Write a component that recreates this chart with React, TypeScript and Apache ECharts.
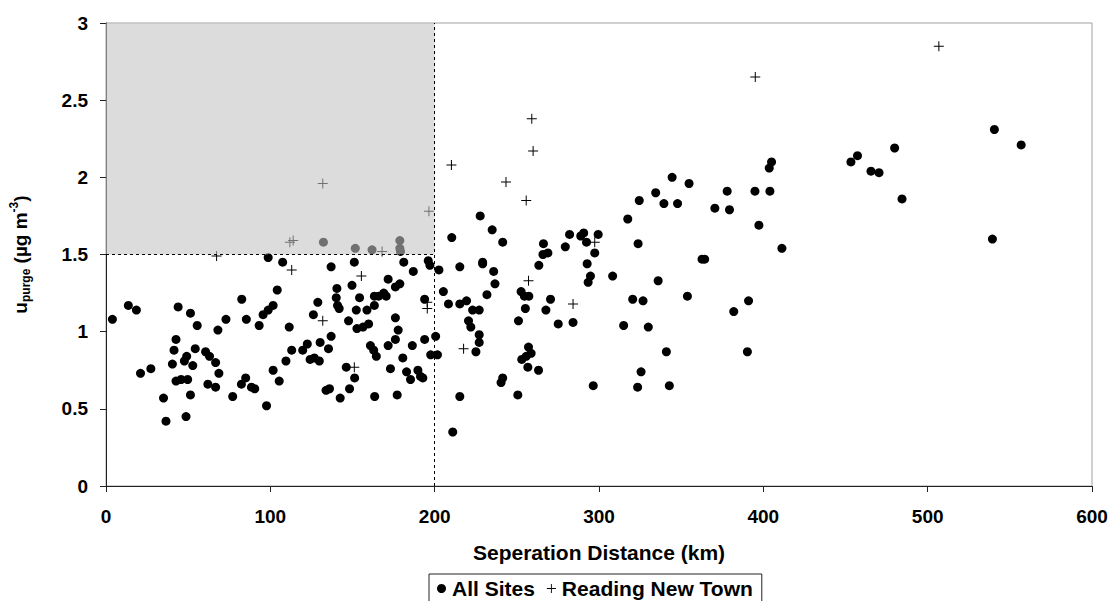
import React, { useEffect, useRef } from "react";
import * as echarts from "echarts";

// All Sites: separation distance (km) and u_purge (µg m-3)
const allSitesDistance = [
  3.9, 13.6, 18.5, 43.9, 51.4, 55.5, 68.1, 73.0, 82.6, 85.4, 93.2, 95.6, 98.7, 98.7,
  42.6, 41.4, 54.3, 49.1, 47.7, 40.4, 52.8, 60.6, 63.0, 66.7, 68.7, 21.0, 27.3, 42.6,
  45.7, 49.7, 62.0, 66.7, 35.0, 51.4, 77.1, 82.4, 85.0, 88.5, 90.5, 97.7, 36.5, 48.7,
  107.5, 137.0, 151.1, 181.2, 187.0, 196.1, 197.1, 202.6, 104.2, 101.7, 111.5, 128.9,
  126.2, 140.5, 140.1, 140.9, 141.9, 149.7, 154.3, 152.3, 158.8, 147.6, 163.3, 165.9,
  169.0, 170.5, 163.3, 171.7, 176.1, 178.8, 176.1, 152.7, 156.4, 159.8, 177.8, 176.1,
  193.9, 193.9, 200.6, 197.6, 201.7, 137.0, 130.3, 135.4, 122.5, 119.7, 113.0, 109.5,
  124.2, 126.8, 129.8, 101.7, 105.4, 160.9, 162.9, 164.5, 171.7, 180.6, 186.4, 173.1,
  182.9, 185.3, 189.8, 191.4, 192.8, 146.2, 151.3, 133.9, 136.0, 148.2, 142.5, 163.5,
  177.2, 132.3, 151.7, 161.9, 178.8, 178.8, 179.2,
  227.7, 235.0, 210.4, 241.4, 266.2, 279.5, 282.1, 288.9, 290.7, 292.4, 299.5, 265.9,
  268.9, 297.4, 263.4, 215.3, 229.2, 229.2, 235.9, 236.7, 231.8, 292.8, 294.8, 293.4,
  308.3, 252.6, 254.6, 257.3, 270.5, 267.7, 255.2, 251.0, 275.2, 284.2, 205.3, 208.4,
  215.3, 219.4, 223.1, 227.1, 220.6, 222.0, 227.1, 227.1, 225.1, 257.1, 258.7, 255.7,
  253.0, 256.7, 263.2, 241.4, 240.4, 215.3, 250.6, 296.5, 211.0,
  405.0, 403.6, 344.5, 354.8, 334.5, 324.5, 339.5, 347.8, 378.0, 394.9, 404.0, 370.5,
  379.4, 317.5, 397.3, 323.8, 411.3, 362.7, 364.3, 336.0, 320.5, 326.8, 353.8, 391.0,
  382.0, 315.0, 330.0, 341.0, 390.3, 325.6, 323.5, 342.8,
  540.6, 556.9, 479.9, 457.3, 453.3, 465.5, 470.4, 484.4, 539.4,
];
const allSitesUpurge = [
  1.08, 1.17, 1.14, 1.16, 1.12, 1.04, 1.01, 1.08, 1.21, 1.08, 1.04, 1.11, 1.14, 1.48,
  0.95, 0.88, 0.89, 0.84, 0.81, 0.79, 0.78, 0.87, 0.84, 0.8, 0.73, 0.73, 0.76, 0.68,
  0.69, 0.69, 0.66, 0.64, 0.57, 0.59, 0.58, 0.66, 0.7, 0.64, 0.63, 0.52, 0.42, 0.45,
  1.45, 1.42, 1.45, 1.45, 1.39, 1.46, 1.43, 1.4, 1.27, 1.17, 1.03, 1.19,
  1.11, 1.28, 1.22, 1.17, 1.15, 1.3, 1.22, 1.14, 1.14, 1.07, 1.23, 1.23,
  1.25, 1.23, 1.17, 1.34, 1.29, 1.31, 1.09, 1.02, 1.03, 1.05, 1.01, 0.95,
  1.21, 0.95, 0.97, 0.85, 0.85, 0.97, 0.93, 0.89, 0.92, 0.88, 0.88, 0.81,
  0.82, 0.83, 0.81, 0.75, 0.68, 0.91, 0.88, 0.84, 0.91, 0.83, 0.91, 0.76,
  0.74, 0.69, 0.75, 0.71, 0.7, 0.77, 0.7, 0.62, 0.63, 0.63, 0.57, 0.58,
  0.59, 1.58, 1.54, 1.53, 1.59, 1.54, 1.52,
  1.75, 1.66, 1.61, 1.58, 1.57, 1.55, 1.63, 1.62, 1.64, 1.58, 1.63, 1.5,
  1.51, 1.51, 1.43, 1.42, 1.45, 1.44, 1.39, 1.31, 1.24, 1.44, 1.36, 1.32,
  1.36, 1.26, 1.23, 1.23, 1.21, 1.14, 1.15, 1.07, 1.05, 1.06, 1.26, 1.18,
  1.18, 1.2, 1.14, 1.14, 1.07, 1.03, 0.98, 0.93, 0.87, 0.9, 0.86, 0.84,
  0.82, 0.77, 0.75, 0.7, 0.67, 0.58, 0.59, 0.65, 0.35,
  2.1, 2.06, 2.0, 1.96, 1.9, 1.85, 1.83, 1.83, 1.91, 1.91, 1.91, 1.8,
  1.79, 1.73, 1.69, 1.57, 1.54, 1.47, 1.47, 1.33, 1.21, 1.2, 1.23, 1.2,
  1.13, 1.04, 1.03, 0.87, 0.87, 0.74, 0.64, 0.65,
  2.31, 2.21, 2.19, 2.14, 2.1, 2.04, 2.03, 1.86, 1.6,
];

// Reading New Town
const readingDistance = [
  67.3, 113.0, 155.4, 131.9, 151.1, 195.5, 195.5, 131.9, 111.9, 113.9, 168.0, 196.5,
  259.1, 259.9, 210.2, 243.4, 255.7, 257.1, 284.2, 217.6, 297.4, 395.1, 506.8,
];
const readingUpurge = [
  1.49, 1.4, 1.36, 1.07, 0.77, 1.19, 1.15, 1.96, 1.58, 1.59, 1.52, 1.78,
  2.38, 2.17, 2.08, 1.97, 1.85, 1.33, 1.18, 0.89, 1.58, 2.65, 2.85,
];

const xMin = 0, xMax = 600, xStep = 100;
const yMin = 0, yMax = 3, yStep = 0.5;
const boxX = [0, 200];
const boxY = [1.5, 3];

const crossPath = "path://M4.5,0h1v10h-1z M0,4.5h10v1h-10z";
const FONT = "'Liberation Sans', Arial, sans-serif";

export default function App() {
  const ref = useRef<HTMLDivElement>(null);
  useEffect(() => {
    if (!ref.current) return;
    const chart = echarts.init(ref.current, null, { renderer: "svg" });
    const allData = allSitesDistance.map((d, i) => [d, allSitesUpurge[i]]);
    const readData = readingDistance.map((d, i) => [d, readingUpurge[i]]);
    chart.setOption({
      animation: false,
      backgroundColor: "#fff",
      textStyle: { fontFamily: FONT },
      grid: {
        left: 106, right: 20, top: 23, bottom: 115,
        show: true, borderColor: "#a0a0a0", borderWidth: 1,
      },
      legend: {
        data: [
          { name: "All Sites", icon: "circle", itemStyle: { opacity: 1 } },
          { name: "Reading New Town", icon: crossPath, itemStyle: { opacity: 1 } },
        ],
        top: 574,
        left: 429,
        padding: [4, 9, 10, 8],
        borderColor: "#222",
        borderWidth: 1,
        itemGap: 12,
        itemWidth: 9,
        itemHeight: 9,
        textStyle: { fontFamily: FONT, fontSize: 21, fontWeight: "bold", color: "#000", padding: [0, 0, 0, 1] },
      },
      xAxis: {
        type: "value",
        min: xMin, max: xMax, interval: xStep,
        name: "Seperation Distance (km)",
        nameLocation: "middle",
        nameGap: 56,
        nameTextStyle: { fontFamily: FONT, fontSize: 21, fontWeight: "bold", color: "#000" },
        axisLine: { show: true, onZero: false, lineStyle: { color: "#222", width: 1 } },
        axisTick: { show: true, inside: false, length: 6, lineStyle: { color: "#222" } },
        axisLabel: { fontFamily: FONT, fontSize: 19, fontWeight: "bold", color: "#000", margin: 21 },
        splitLine: { show: false },
      },
      yAxis: {
        type: "value",
        min: yMin, max: yMax, interval: yStep,
        name: "{b|u}{sub|purge}{b| (µg m}{sup|-3}{b|)}",
        nameLocation: "middle",
        nameGap: 74,
        nameRotate: 90,
        nameTextStyle: {
          fontFamily: FONT, fontSize: 19, fontWeight: "bold", color: "#000",
          rich: {
            b: { fontFamily: FONT, fontSize: 19, fontWeight: "bold", color: "#000", lineHeight: 24, verticalAlign: "middle" },
            sub: { fontFamily: FONT, fontSize: 12, fontWeight: "bold", color: "#000", lineHeight: 24, verticalAlign: "bottom", padding: [8, 0, 0, 0] },
            sup: { fontFamily: FONT, fontSize: 12, fontWeight: "bold", color: "#000", lineHeight: 24, verticalAlign: "top", padding: [0, 0, 10, 0] },
          },
        },
        axisLine: { show: true, onZero: false, lineStyle: { color: "#222", width: 1 } },
        axisTick: { show: true, inside: false, length: 6, lineStyle: { color: "#222" } },
        axisLabel: { fontFamily: FONT, fontSize: 19, fontWeight: "bold", color: "#000", margin: 18 },
        splitLine: { show: false },
      },
      series: [
        {
          name: "All Sites",
          type: "scatter",
          symbol: "circle",
          symbolSize: 9,
          itemStyle: { color: "#000", opacity: 1 },
          data: allData,
          z: 2,
          markArea: {
            silent: true,
            z: 3,
            itemStyle: { color: "rgba(194,194,194,0.58)", borderWidth: 0 },
            data: [[{ coord: [boxX[0], boxY[0]] }, { coord: [boxX[1], boxY[1]] }]],
          },
          markLine: {
            silent: true,
            z: 4,
            symbol: "none",
            label: { show: false },
            lineStyle: { color: "#000", type: [3, 3], width: 1 },
            data: [
              [{ coord: [boxX[1], yMin] }, { coord: [boxX[1], yMax] }],
              [{ coord: [boxX[0], boxY[0]] }, { coord: [boxX[1], boxY[0]] }],
            ],
          },
        },
        {
          name: "Reading New Town",
          type: "scatter",
          symbol: crossPath,
          symbolSize: 10,
          itemStyle: { color: "#000", opacity: 1 },
          data: readData,
          z: 2,
        },
      ],
    });
    return () => chart.dispose();
  }, []);
  return (
    <div
      ref={ref}
      style={{ position: "fixed", left: 0, top: 0, width: 1112, height: 601 }}
    />
  );
}
